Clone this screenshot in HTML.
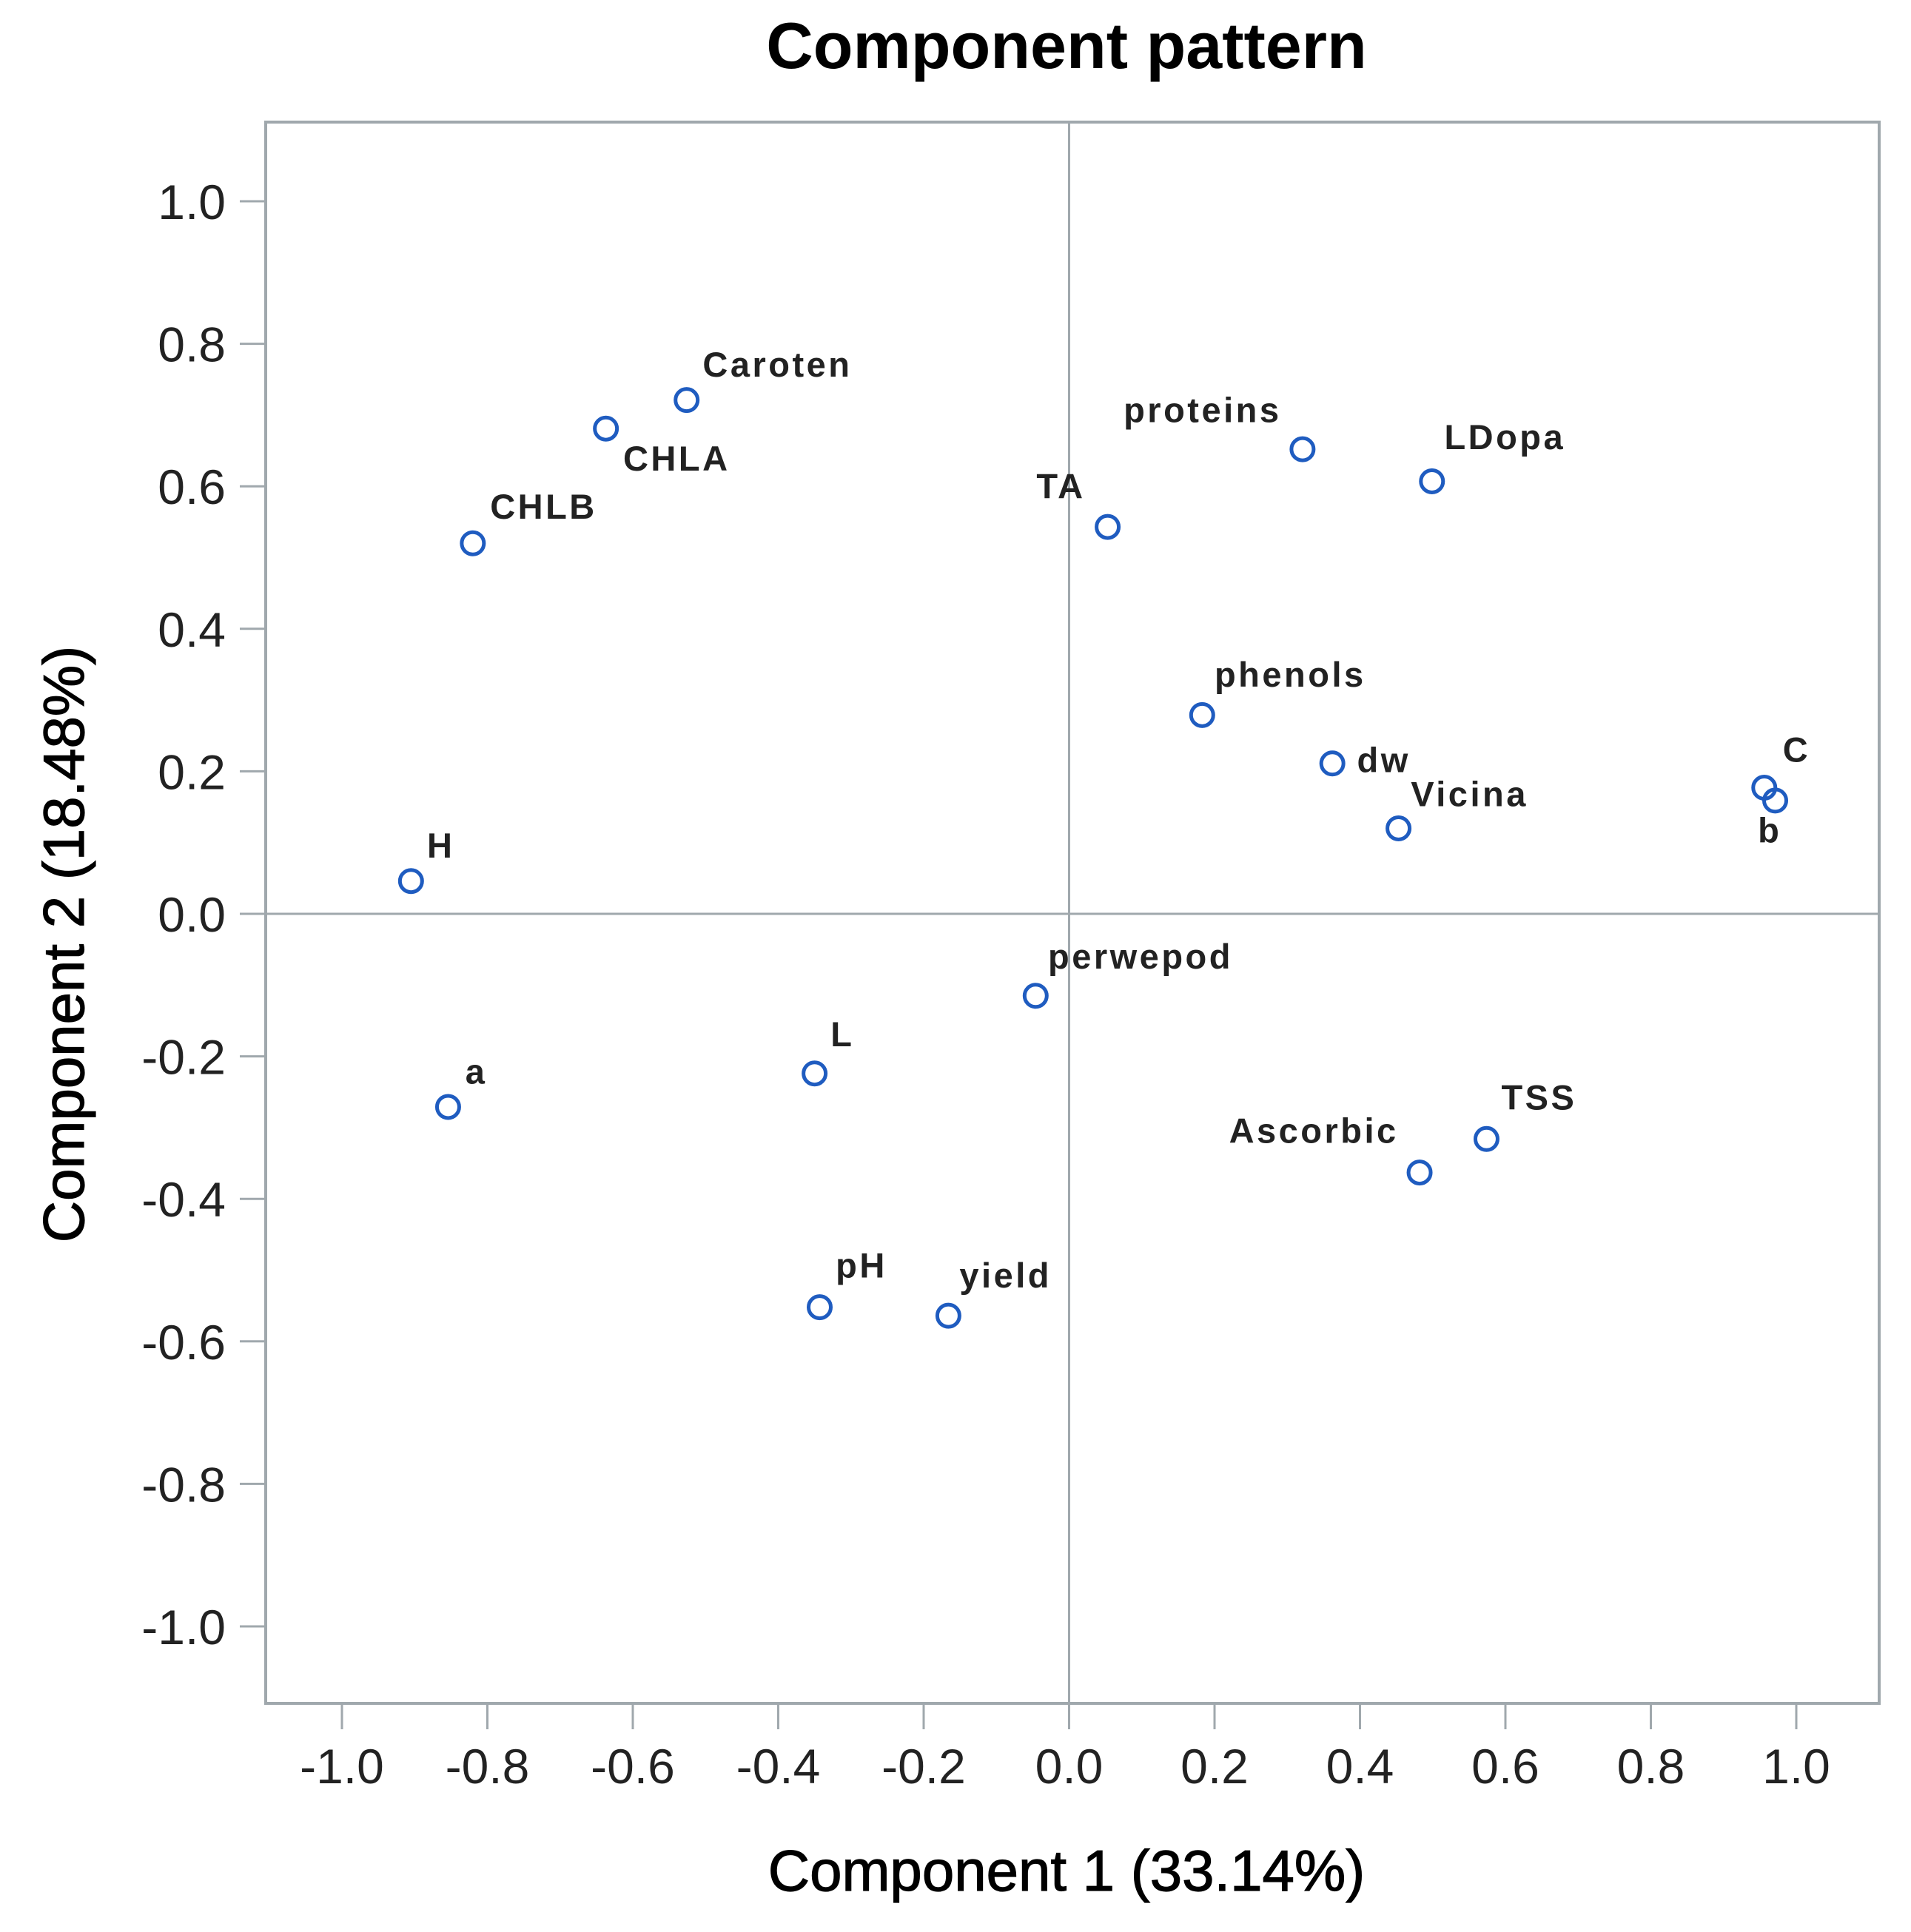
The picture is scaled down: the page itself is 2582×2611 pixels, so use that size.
<!DOCTYPE html>
<html><head><meta charset="utf-8"><style>
html,body{margin:0;padding:0;background:#fff;}
svg{display:block;}
</style></head><body>
<svg id="chart" width="2582" height="2611" viewBox="0 0 2582 2611" xmlns="http://www.w3.org/2000/svg" font-family="Liberation Sans, Arial, sans-serif">
<rect x="0" y="0" width="2582" height="2611" fill="#fff"/>
<text x="1441" y="92" text-anchor="middle" font-size="88" font-weight="bold" fill="#000">Component pattern</text>
<rect x="359" y="165" width="2180" height="2137" fill="none" stroke="#a0a8ad" stroke-width="4"/>
<g id="axes"></g>
<g id="marks"></g>
<text x="1441" y="2555" text-anchor="middle" font-size="78" fill="#000" stroke="#000" stroke-width="1.2">Component 1 (33.14%)</text>
<text transform="translate(113,1276) rotate(-90)" text-anchor="middle" font-size="78" fill="#000" stroke="#000" stroke-width="1.2">Component 2 (18.48%)</text>
</svg>
<script>
const names = ["Caroten","CHLA","CHLB","H","a","L","pH","yield","perwepod","TA","proteins","LDopa","phenols","dw","Vicina","C","b","TSS","Ascorbic"];
const comp1 = [-0.526,-0.637,-0.820,-0.905,-0.854,-0.350,-0.343,-0.166,-0.046,0.053,0.321,0.499,0.183,0.362,0.453,0.956,0.971,0.574,0.482];
const comp2 = [0.721,0.681,0.520,0.046,-0.271,-0.224,-0.552,-0.564,-0.115,0.543,0.652,0.607,0.279,0.211,0.120,0.177,0.159,-0.316,-0.363];
const xTicks = [-1.0,-0.8,-0.6,-0.4,-0.2,0.0,0.2,0.4,0.6,0.8,1.0];
const yTicks = [1.0,0.8,0.6,0.4,0.2,0.0,-0.2,-0.4,-0.6,-0.8,-1.0];
// label placement (display offsets)
const labelLayout = {
 "Caroten":[13,-19,"start"],"CHLA":[14,34,"start"],"CHLB":[14,-20,"start"],"H":[13,-19,"start"],
 "a":[14,-19,"start"],"L":[13,-22,"start"],"pH":[13,-24,"start"],"yield":[9,-23,"start"],
 "perwepod":[10,-22,"start"],"TA":[-18,-23,"end"],"proteins":[-17,-22,"end"],"LDopa":[10,-26,"start"],
 "phenols":[10,-23,"start"],"dw":[20,7,"start"],"Vicina":[10,-18,"start"],"C":[15,-21,"start"],
 "b":[-14,34,"start"],"TSS":[12,-24,"start"],"Ascorbic":[-17,-24,"end"]
};
const S = 1.668;
const X = v => 1444.5 + v*982.5;
const Y = v => 1235 - v*963;
const NS = "http://www.w3.org/2000/svg";
const axes = document.getElementById('axes');
const marks = document.getElementById('marks');
function mk(tag, attrs, parent){const e=document.createElementNS(NS,tag);for(const k in attrs)e.setAttribute(k,attrs[k]);parent.appendChild(e);return e;}
const fmt = v => (Math.abs(v)<1e-9?"0.0":v.toFixed(1));
let rl = mk('line',{x1:X(0),x2:X(0),y1:165,y2:2302,stroke:'#a0a8ad','stroke-width':3},axes);


rl = mk('line',{x1:359,x2:2539,y1:Y(0),y2:Y(0),stroke:'#a0a8ad','stroke-width':3},axes);


xTicks.forEach(v=>{
  const t = mk('line',{x1:X(v),x2:X(v),y1:2302,y2:2337,stroke:'#a0a8ad','stroke-width':3},axes);
  
  
  const l = mk('text',{x:X(v),y:2410,'text-anchor':'middle','font-size':66,fill:'#222'},axes);
  l.textContent = fmt(v);
  
  
});
yTicks.forEach(v=>{
  const t = mk('line',{x1:324,x2:359,y1:Y(v),y2:Y(v),stroke:'#a0a8ad','stroke-width':3},axes);
  
  
  const l = mk('text',{x:305,y:Y(v)+24,'text-anchor':'end','font-size':66,fill:'#222'},axes);
  l.textContent = fmt(v);
  
  
});
names.forEach((n,i)=>{
  const cx = X(comp1[i]), cy = Y(comp2[i]);
  const c = mk('circle',{cx:cx,cy:cy,r:15,fill:'none',stroke:'#1f5cc0','stroke-width':5},marks);
  
  
  const lay = labelLayout[n];
  const t = mk('text',{x:cx+lay[0]*S,y:cy+lay[1]*S,'text-anchor':lay[2],'font-size':47,'font-weight':'bold','letter-spacing':3.5,fill:'#222'},marks);
  t.textContent = n;
  
  
});
</script>
</body></html>
